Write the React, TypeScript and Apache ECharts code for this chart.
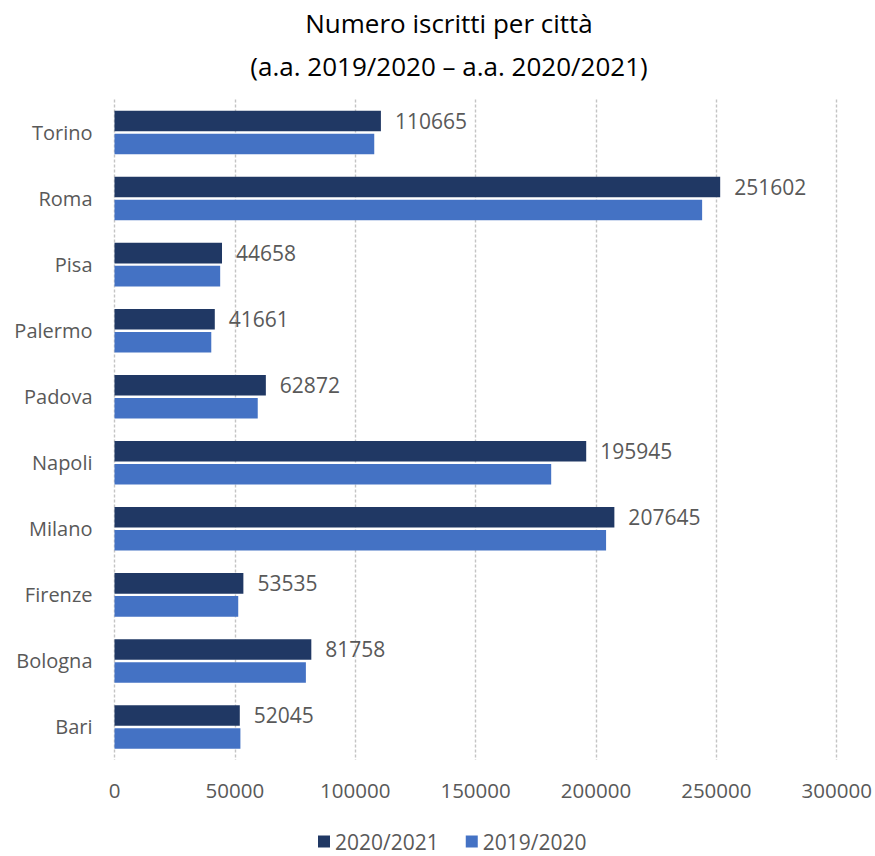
import React, { useEffect, useRef } from "react";
import * as echarts from "echarts";

const categories = ["Bari", "Bologna", "Firenze", "Milano", "Napoli", "Padova", "Palermo", "Pisa", "Roma", "Torino"];
const values2021 = [52045, 81758, 53535, 207645, 195945, 62872, 41661, 44658, 251602, 110665];
const values2020 = [52300, 79500, 51400, 204200, 181400, 59500, 40200, 43900, 244100, 107900];
const seriesNames = ["2020/2021", "2019/2020"];
const titleLines = ["Numero iscritti per città", "(a.a. 2019/2020 – a.a. 2020/2021)"];

const FONT = "'Open Sans', 'Noto Sans', sans-serif";

export default function App() {
  const ref = useRef<HTMLDivElement>(null);
  useEffect(() => {
    if (!ref.current) return;
    const chart = echarts.init(ref.current, undefined, { renderer: "svg" });
    chart.setOption({
      animation: false,
      backgroundColor: "#ffffff",
      title: {
        text: titleLines.join("\n"),
        left: 449,
        top: 1,
        padding: 0,
        textAlign: "center",
        textStyle: {
          fontFamily: FONT,
          fontSize: 26,
          fontWeight: "normal",
          color: "#000000",
          lineHeight: 43,
        },
      },
      legend: {
        data: seriesNames,
        left: 318,
        top: 831,
        padding: 0,
        icon: "rect",
        itemWidth: 12,
        itemHeight: 12,
        itemGap: 27,
        textStyle: { fontFamily: FONT, fontSize: 21, color: "#595959" },
      },
      grid: { left: 114.5, right: 38.3, top: 99.5, bottom: 96, containLabel: false },
      xAxis: {
        type: "value",
        min: 0,
        max: 300000,
        interval: 50000,
        axisLine: { show: false },
        axisTick: { show: false },
        axisLabel: {
          fontFamily: FONT,
          fontSize: 20.5,
          color: "#595959",
          margin: 19,
          formatter: (v: number) => String(v),
        },
        splitLine: { show: true, lineStyle: { color: "#c4c4c4", width: 1.4, type: [3, 2] } },
      },
      yAxis: {
        type: "category",
        data: categories,
        axisLine: { show: false },
        axisTick: { show: false },
        axisLabel: { fontFamily: FONT, fontSize: 20, color: "#595959", margin: 22 },
      },
      series: [
        {
          name: seriesNames[0],
          type: "bar",
          data: values2021,
          itemStyle: { color: "#203864" },
          barGap: "12%",
          barCategoryGap: "34%",
          label: {
            show: true,
            position: "right",
            distance: 14,
            fontFamily: FONT,
            fontSize: 21,
            color: "#595959",
          },
        },
        {
          name: seriesNames[1],
          type: "bar",
          data: values2020,
          itemStyle: { color: "#4472C4" },
          barGap: "12%",
          barCategoryGap: "34%",
        },
      ],
    });
    return () => chart.dispose();
  }, []);
  return (
    <div
      ref={ref}
      style={{ position: "absolute", left: 0, top: 0, width: 875, height: 856 }}
    />
  );
}
